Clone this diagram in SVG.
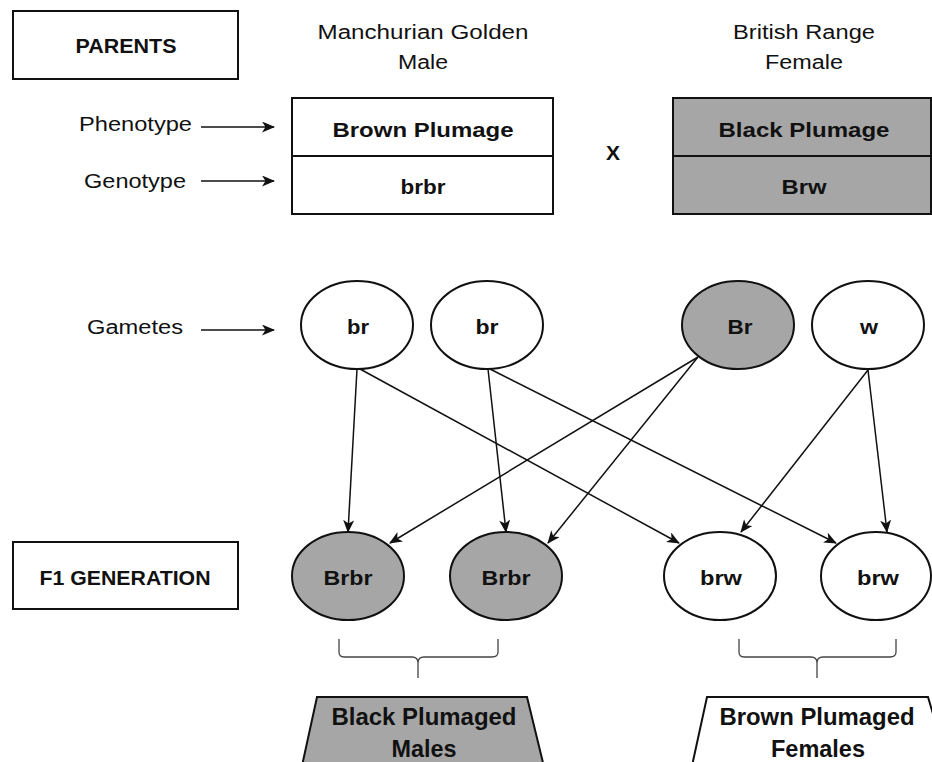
<svg xmlns="http://www.w3.org/2000/svg" width="932" height="762" viewBox="0 0 932 762">
<style>
text{font-family:"Liberation Sans",Arial,sans-serif;fill:#111;}
.r{font-size:20px;}
.b{font-size:21px;font-weight:bold;}
.big{font-size:24px;font-weight:bold;}
.m{text-anchor:middle;}
.box{fill:#fff;stroke:#111;stroke-width:2;}
.gray{fill:#a6a6a6;}
.node{stroke:#111;stroke-width:2;}
.con{stroke:#111;stroke-width:1.5;fill:none;}
.brace{stroke:#444;stroke-width:1.3;fill:none;}
</style>
<defs>
<marker id="ah" viewBox="0 0 13 11" refX="12" refY="5.5" markerWidth="13" markerHeight="11" markerUnits="userSpaceOnUse" orient="auto">
<path d="M0,0 L13,5.5 L0,11 L3.5,5.5 z" fill="#111"/>
</marker>
</defs>

<g id="parents-label">
<rect class="box" x="13" y="11" width="225" height="68"/>
<text class="b m" x="126" y="53" textLength="101" lengthAdjust="spacingAndGlyphs">PARENTS</text>
</g>

<g id="male-title">
<text class="r m" x="423" y="39" textLength="211" lengthAdjust="spacingAndGlyphs">Manchurian Golden</text>
<text class="r m" x="423" y="69" textLength="50" lengthAdjust="spacingAndGlyphs">Male</text>
</g>
<g id="female-title">
<text class="r m" x="804" y="39" textLength="142" lengthAdjust="spacingAndGlyphs">British Range</text>
<text class="r m" x="804" y="69" textLength="78" lengthAdjust="spacingAndGlyphs">Female</text>
</g>

<g id="row-labels">
<text class="r" x="79" y="131" textLength="113" lengthAdjust="spacingAndGlyphs">Phenotype</text>
<text class="r" x="84" y="188" textLength="102" lengthAdjust="spacingAndGlyphs">Genotype</text>
<text class="r" x="87" y="334" textLength="96" lengthAdjust="spacingAndGlyphs">Gametes</text>
</g>

<g id="male-parent">
<rect class="box" x="292" y="98" width="261" height="116"/>
<line x1="292" y1="156" x2="553" y2="156" stroke="#111" stroke-width="2"/>
<text class="b m" x="423" y="137" textLength="181" lengthAdjust="spacingAndGlyphs">Brown Plumage</text>
<text class="b m" x="423" y="194" textLength="45" lengthAdjust="spacingAndGlyphs">brbr</text>
</g>

<g id="cross">
<text class="b m" x="613" y="160" textLength="14" lengthAdjust="spacingAndGlyphs">X</text>
</g>

<g id="female-parent">
<rect class="box gray" x="673" y="98" width="258" height="116"/>
<line x1="673" y1="156" x2="931" y2="156" stroke="#111" stroke-width="2"/>
<text class="b m" x="804" y="137" textLength="171" lengthAdjust="spacingAndGlyphs">Black Plumage</text>
<text class="b m" x="804" y="194" textLength="45" lengthAdjust="spacingAndGlyphs">Brw</text>
</g>

<g id="gamete-br1">
<ellipse class="node" cx="357" cy="325" rx="56" ry="44" fill="#fff"/>
<text class="b m" x="358" y="334" textLength="22" lengthAdjust="spacingAndGlyphs">br</text>
</g>
<g id="gamete-br2">
<ellipse class="node" cx="487" cy="325" rx="56" ry="44" fill="#fff"/>
<text class="b m" x="487" y="334" textLength="23" lengthAdjust="spacingAndGlyphs">br</text>
</g>
<g id="gamete-Br">
<ellipse class="node gray" cx="738" cy="325" rx="56" ry="44"/>
<text class="b m" x="740" y="334" textLength="25" lengthAdjust="spacingAndGlyphs">Br</text>
</g>
<g id="gamete-w">
<ellipse class="node" cx="868" cy="325" rx="56" ry="44" fill="#fff"/>
<text class="b m" x="869" y="334" textLength="18" lengthAdjust="spacingAndGlyphs">w</text>
</g>

<g id="f1-label">
<rect class="box" x="13" y="542" width="225" height="67"/>
<text class="b m" x="125" y="585" textLength="171" lengthAdjust="spacingAndGlyphs">F1 GENERATION</text>
</g>

<g id="f1-Brbr1">
<ellipse class="node gray" cx="348" cy="576" rx="56" ry="44"/>
<text class="b m" x="348" y="585" textLength="49" lengthAdjust="spacingAndGlyphs">Brbr</text>
</g>
<g id="f1-Brbr2">
<ellipse class="node gray" cx="506" cy="576" rx="56" ry="44"/>
<text class="b m" x="506" y="585" textLength="49" lengthAdjust="spacingAndGlyphs">Brbr</text>
</g>
<g id="f1-brw1">
<ellipse class="node" cx="720" cy="576" rx="56" ry="44" fill="#fff"/>
<text class="b m" x="721" y="585" textLength="42" lengthAdjust="spacingAndGlyphs">brw</text>
</g>
<g id="f1-brw2">
<ellipse class="node" cx="876" cy="576" rx="55" ry="44" fill="#fff"/>
<text class="b m" x="878" y="585" textLength="42" lengthAdjust="spacingAndGlyphs">brw</text>
</g>

<g id="connectors">
<line class="con" x1="201" y1="127" x2="274" y2="127" marker-end="url(#ah)"/>
<line class="con" x1="201" y1="181" x2="274" y2="181" marker-end="url(#ah)"/>
<line class="con" x1="201" y1="330" x2="274" y2="330" marker-end="url(#ah)"/>
<line class="con" x1="357" y1="369" x2="348" y2="532" marker-end="url(#ah)"/>
<line class="con" x1="360" y1="369" x2="679" y2="543" marker-end="url(#ah)"/>
<line class="con" x1="488" y1="369" x2="506" y2="532" marker-end="url(#ah)"/>
<line class="con" x1="490" y1="369" x2="836" y2="543" marker-end="url(#ah)"/>
<line class="con" x1="698" y1="357" x2="390" y2="543" marker-end="url(#ah)"/>
<line class="con" x1="698" y1="357" x2="548" y2="543" marker-end="url(#ah)"/>
<line class="con" x1="868" y1="370" x2="741" y2="532" marker-end="url(#ah)"/>
<line class="con" x1="868" y1="370" x2="887" y2="532" marker-end="url(#ah)"/>
</g>

<g id="brace-males">
<path class="brace" d="M339,639 L339,652 Q339,657 344,657 L412,657 Q418,657 418,663 L418,678 M418,663 Q418,657 424,657 L492,657 Q498,657 498,652 L498,639"/>
</g>
<g id="brace-females">
<path class="brace" d="M739,639 L739,652 Q739,657 744,657 L811,657 Q817,657 817,663 L817,678 M817,663 Q817,657 823,657 L890,657 Q896,657 896,652 L896,639"/>
</g>

<g id="result-males">
<polygon points="317,697 527,697 546,775 300,775" fill="#a6a6a6" stroke="#111" stroke-width="2"/>
<text class="big m" x="424" y="725" textLength="185" lengthAdjust="spacingAndGlyphs">Black Plumaged</text>
<text class="big m" x="424" y="757" textLength="65" lengthAdjust="spacingAndGlyphs">Males</text>
</g>
<g id="result-females">
<polygon points="707,697 928,697 951,775 690,775" fill="#fff" stroke="#111" stroke-width="2"/>
<text class="big m" x="817" y="725" textLength="195" lengthAdjust="spacingAndGlyphs">Brown Plumaged</text>
<text class="big m" x="818" y="757" textLength="94" lengthAdjust="spacingAndGlyphs">Females</text>
</g>
</svg>
